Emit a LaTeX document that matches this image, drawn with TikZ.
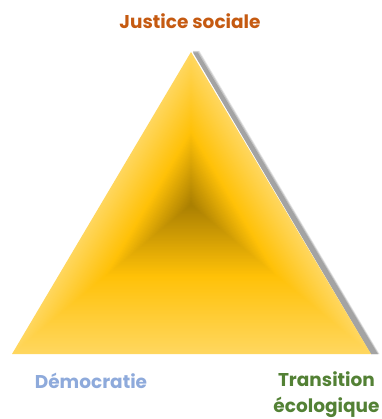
\documentclass[tikz,border=0pt]{standalone}
\usepackage{fontspec}
\usetikzlibrary{calc}
\setmainfont{Poppins}
\definecolor{edgeY}{HTML}{FFD75F}
\definecolor{midY}{HTML}{FFC107}
\definecolor{coreY}{HTML}{A87E02}
\definecolor{shadeA}{HTML}{A3A3A3}
\definecolor{shadeB}{HTML}{C4C4C4}
\definecolor{shadeC}{HTML}{E6E6E6}
\definecolor{justc}{HTML}{C55A11}
\definecolor{democ}{HTML}{8EAADB}
\definecolor{transc}{HTML}{538135}
\tikzset{lab/.style={font=\bfseries\fontsize{18.5}{26.5}\selectfont,inner sep=0pt,align=center}}
\begin{document}
\begin{tikzpicture}[x=1pt,y=-1pt]
\useasboundingbox (0,0) rectangle (381,419);
% shadow
\fill[shadeC] (193,51) -- (199.5,51) -- (379.5,354) -- (371,354) -- cycle;
\fill[shadeB] (193,51.5) -- (198.7,51.5) -- (378.7,354) -- (371,354) -- cycle;
\fill[shadeA] (193,52.5) -- (197.8,52.5) -- (377.8,354) -- (371,354) -- cycle;
% concentric triangles
\coordinate (ctr) at (191,205);
\coordinate (apex) at (191,52);
\coordinate (bl) at (12,354);
\coordinate (br) at (371,354);
\foreach \i in {0,...,99}{
  \pgfmathsetmacro{\t}{\i/100}
  \pgfmathsetmacro{\s}{1-\t}
  \ifdim\t pt<0.52pt
    \pgfmathsetmacro{\m}{100*\t/0.52}
    \colorlet{cur}{midY!\m!edgeY}
  \else
    \pgfmathsetmacro{\m}{100*(\t-0.52)/0.48}
    \colorlet{cur}{coreY!\m!midY}
  \fi
  \fill[cur] ($(ctr)!\s!(apex)$) -- ($(ctr)!\s!(br)$) -- ($(ctr)!\s!(bl)$) -- cycle;
}
\node[lab,text=justc] (jus) at (190,21.5) {Justice sociale};
\node[lab,text=democ] (dem) at (91,381) {Démocratie};
\node[lab,text=transc] (tra) at (326.5,394.5) {Transition\\écologique};
\end{tikzpicture}
\end{document}
